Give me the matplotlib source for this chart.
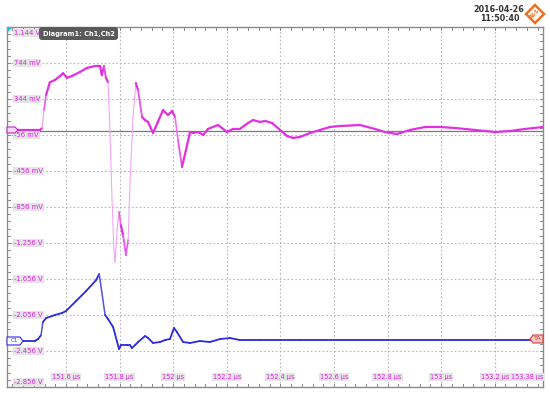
import numpy as np
import matplotlib
matplotlib.use("Agg")
from matplotlib import pyplot as plt
from matplotlib.collections import LineCollection
from matplotlib.patches import FancyBboxPatch, Polygon
import matplotlib.transforms as mtransforms

# Ch2 (magenta) - time in us, volts
t_ch2 = [151.380, 151.503, 151.511, 151.518, 151.526, 151.540, 151.559, 151.578, 151.589,
         151.604, 151.623, 151.652, 151.679, 151.708, 151.727, 151.734, 151.742, 151.749,
         151.757, 151.764, 151.772, 151.779, 151.783, 151.791, 151.798, 151.805, 151.813,
         151.824, 151.832, 151.839, 151.850, 151.861, 151.869, 151.884, 151.895, 151.906,
         151.925, 151.943, 151.962, 151.981, 151.996, 152.007, 152.018, 152.033, 152.048,
         152.063, 152.074, 152.089, 152.100, 152.112, 152.130, 152.167, 152.182, 152.201,
         152.223, 152.249, 152.279, 152.298, 152.324, 152.343, 152.369, 152.399, 152.425,
         152.447, 152.473, 152.511, 152.548, 152.585, 152.623, 152.697, 152.753, 152.790,
         152.835, 152.884, 152.940, 152.996, 153.052, 153.126, 153.201, 153.257, 153.313,
         153.380]
v_ch2 = [0.00, 0.00, 0.02, 0.22, 0.39, 0.53, 0.555, 0.60, 0.63,
         0.58, 0.60, 0.644, 0.69, 0.71, 0.71, 0.61, 0.71, 0.58,
         0.53, 0.00, -0.78, -1.33, -1.47, -1.11, -0.91, -1.06, -1.17,
         -1.39, -1.22, -0.59, 0.144, 0.52, 0.44, 0.144, 0.11, 0.09,
         -0.034, 0.09, 0.22, 0.166, 0.21, 0.144, -0.11, -0.41, -0.22,
         -0.023, -0.034, -0.023, -0.034, -0.056, 0.011, 0.055, 0.022, -0.023,
         0.011, 0.011, 0.077, 0.11, 0.089, 0.10, 0.077, 0.0, -0.067,
         -0.089, -0.078, -0.034, 0.0, 0.033, 0.044, 0.055, 0.011, -0.023,
         -0.045, 0.0, 0.033, 0.033, 0.022, 0.0, -0.023, -0.012, 0.011,
         0.033]

# Ch1 (blue)
t_ch1 = [151.380, 151.484, 151.496, 151.507, 151.514, 151.526, 151.559, 151.585, 151.600,
         151.638, 151.675, 151.712, 151.724, 151.746, 151.757, 151.776, 151.798, 151.805,
         151.828, 151.839, 151.846, 151.858, 151.869, 151.895, 151.906, 151.925, 151.951,
         151.970, 151.988, 152.003, 152.014, 152.037, 152.063, 152.100, 152.137, 152.175,
         152.212, 152.249, 152.324, 152.473, 153.380]
v_ch1 = [-2.345, -2.345, -2.323, -2.28, -2.134, -2.09, -2.056, -2.034, -2.012,
         -1.90, -1.79, -1.67, -1.60, -2.056, -2.10, -2.19, -2.434, -2.39,
         -2.39, -2.39, -2.423, -2.39, -2.356, -2.29, -2.31, -2.367, -2.356,
         -2.334, -2.323, -2.20, -2.245, -2.356, -2.367, -2.345, -2.356, -2.323,
         -2.312, -2.334, -2.334, -2.334, -2.334]

y_ticks = [1.144, 0.744, 0.344, -0.056, -0.456, -0.856, -1.256, -1.656, -2.056, -2.456, -2.856]
y_labels = ["1.144 V", "744 mV", "344 mV", "-56 mV", "-456 mV", "-856 mV",
            "-1.256 V", "-1.656 V", "-2.056 V", "-2.456 V", "-2.856 V"]
x_ticks = [151.6, 151.8, 152.0, 152.2, 152.4, 152.6, 152.8, 153.0, 153.2, 153.38]
x_labels = ["151.6 µs", "151.8 µs", "152 µs", "152.2 µs", "152.4 µs", "152.6 µs",
            "152.8 µs", "153 µs", "153.2 µs", "153.38 µs"]

t_min, t_max = 151.38, 153.38
v_min, v_max = -2.856, 1.144

W, H = 550, 412
fig = plt.figure(figsize=(W / 100, H / 100), dpi=100)
fig.patch.set_facecolor("white")
ax = fig.add_axes([7 / W, 1 - 387 / H, 536 / W, 360 / H])
ax.set_xlim(t_min, t_max)
ax.set_ylim(v_min, v_max)
ax.set_xticks([])
ax.set_yticks([])
for s in ax.spines.values():
    s.set_color("#8a8a8a")
    s.set_linewidth(1.0)

grid_kw = dict(color="#b8b8b8", lw=0.8, ls=(0, (1.5, 2)), zorder=1)
for v in y_ticks[1:-1]:
    ax.axhline(v, **grid_kw)
for t in x_ticks[:-1]:
    ax.axvline(t, **grid_kw)

# Ch2 reference line
ax.axhline(-0.012, color="#7a7a7a", lw=0.9, zorder=1.5)

# small minor ticks on the frame
px = (t_max - t_min) / 536
py = (v_max - v_min) / 360
for v in np.arange(v_min, v_max + 1e-9, 0.08):
    ax.plot([t_min, t_min + 3 * px], [v, v], color="#8a8a8a", lw=0.7, zorder=2)
    ax.plot([t_max - 3 * px, t_max], [v, v], color="#8a8a8a", lw=0.7, zorder=2)
for t in np.arange(151.4, t_max + 1e-9, 0.04):
    ax.plot([t, t], [v_min, v_min + 3 * py], color="#8a8a8a", lw=0.7, zorder=2)
    ax.plot([t, t], [v_max - 3 * py, v_max], color="#8a8a8a", lw=0.7, zorder=2)


def trace(t, v, dark, light, wmax, wmin):
    t = np.asarray(t)
    v = np.asarray(v)
    pts = np.column_stack([t, v]).reshape(-1, 1, 2)
    segs = np.concatenate([pts[:-1], pts[1:]], axis=1)
    slope = np.abs(np.diff(v) / py) / np.maximum(np.abs(np.diff(t) / px), 1e-6)
    f = np.clip((slope - 5.0) / 5.0, 0, 1)
    c0 = np.array(matplotlib.colors.to_rgb(dark))
    c1 = np.array(matplotlib.colors.to_rgb(light))
    cols = [tuple(c0 * (1 - a) + c1 * a) for a in f]
    widths = wmax * (1 - f) + wmin * f
    lc = LineCollection(segs, colors=cols, linewidths=widths, capstyle="round",
                        joinstyle="round", zorder=3)
    ax.add_collection(lc)


trace(t_ch2, v_ch2, "#e030e0", "#f3a6f3", 1.6, 0.8)
trace(t_ch1, v_ch1, "#2a2ae0", "#8f8ff0", 1.3, 0.8)

# y labels
lab_tr = mtransforms.blended_transform_factory(ax.transAxes, ax.transData)
box = dict(boxstyle="square,pad=0.15", fc="#e4e4e4", ec="none")
for v, s in zip(y_ticks, y_labels):
    yy = v
    if v == v_max:
        yy = v - 6 * py
    elif v == v_min:
        yy = v + 5 * py
    ax.text(7 / 536, yy, s, transform=lab_tr, fontsize=4.9, color="#e020e0",
            ha="left", va="center", bbox=box, zorder=5)

# x labels
xl_tr = mtransforms.blended_transform_factory(ax.transData, ax.transAxes)
for t, s in zip(x_ticks, x_labels):
    ha = "right" if t == t_max else "center"
    ax.text(t, 10 / 360, s, transform=xl_tr, fontsize=4.7, color="#e020e0",
            ha=ha, va="center", bbox=box, zorder=5)

# overlay in pixel coordinates for the decorations
ov = fig.add_axes([0, 0, 1, 1], facecolor="none")
ov.set_xlim(0, W)
ov.set_ylim(H, 0)
ov.axis("off")

ov.add_patch(FancyBboxPatch((39, 27), 79, 13, boxstyle="round,pad=0,rounding_size=3",
                            fc="#5a5a5a", ec="none", zorder=6))
ov.text(78.5, 33.5, "Diagram1: Ch1,Ch2", color="white", fontsize=4.8,
        fontweight="bold", ha="center", va="center", zorder=7)
ov.add_patch(Polygon([[7, 27], [13, 27], [7, 33]], closed=True, fc="#20c0e0", ec="none", zorder=6))

# channel markers
ov.add_patch(Polygon([[7, 127], [15, 127], [18, 130], [15, 133], [7, 133]], closed=True,
                     fc="#f8d8f8", ec="#c020c0", lw=0.8, zorder=6))
ov.add_patch(Polygon([[7, 337], [20, 337], [23, 341], [20, 345], [7, 345]], closed=True,
                     fc="white", ec="#2a2ae0", lw=0.8, zorder=6))
ov.text(14, 341, "C1", color="#2a2ae0", fontsize=4, ha="center", va="center", zorder=7)
ov.add_patch(Polygon([[543, 335], [533, 335], [530, 339], [533, 343], [543, 343]], closed=True,
                     fc="#f8c8c8", ec="#d04040", lw=0.8, zorder=6))
ov.text(538, 339, "TA", color="#d04040", fontsize=4.5, ha="center", va="center", zorder=7)

# timestamp and logo
ov.text(499, 9, "2016-04-26", fontsize=5.8, fontweight="bold", color="#333333",
        ha="center", va="center")
ov.text(500, 18.5, "11:50:40", fontsize=5.8, fontweight="bold", color="#333333",
        ha="center", va="center")
ov.add_patch(Polygon([[535, 5], [544, 14], [535, 23], [526, 14]], closed=True,
                     fc="white", ec="#f07020", lw=1.8, zorder=6))
ov.text(535, 14, "R&S", fontsize=3.5, color="#f07020", ha="center", va="center",
        rotation=45, fontweight="bold", zorder=7)

fig.savefig("out.png", dpi=100)
